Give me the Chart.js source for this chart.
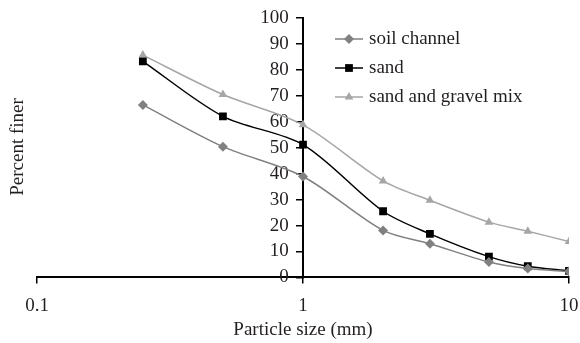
<!doctype html>
<html lang="en">
<head>
<meta charset="utf-8">
<title>Percent finer vs particle size</title>
<style>
  * { margin: 0; padding: 0; }
  body { background: #fff; }
  .chartBox { width: 580px; height: 343px; }
</style>
</head>
<body>
<div class="chartBox"><canvas id="myChart" width="580" height="343"></canvas></div>
<script src="https://cdn.jsdelivr.net/npm/chart.js/dist/chart.umd.min.js"></script>
<script>
// data
const sizes = [0.25, 0.5, 1, 2, 3, 5, 7, 10];
const soilChannel = [66.5, 50.4, 38.9, 18.1, 13.0, 5.9, 3.4, 2.3];
const sand = [83.3, 62.1, 51.2, 25.5, 16.8, 8.0, 4.3, 2.5];
const sandGravelMix = [85.7, 70.5, 58.8, 37.2, 29.7, 21.3, 17.8, 13.8];
const seriesNames = ['soil channel', 'sand', 'sand and gravel mix'];
const xTicks = [0.1, 1, 10];
const yTicks = [0, 10, 20, 30, 40, 50, 60, 70, 80, 90, 100];

const FONT = '"Liberation Serif", "Times New Roman", serif';
const TEXT = '#231f20';

function toPoints(values) {
  return sizes.map((x, i) => ({x: x, y: values[i]}));
}

const data = {
  datasets: [
    {
      label: seriesNames[0],
      data: toPoints(soilChannel),
      borderColor: '#808080',
      backgroundColor: '#808080',
      pointStyle: 'rectRot',
      pointRadius: 5,
    },
    {
      label: seriesNames[1],
      data: toPoints(sand),
      borderColor: '#000000',
      backgroundColor: '#000000',
      pointStyle: 'rect',
      pointRadius: 5.5,
    },
    {
      label: seriesNames[2],
      data: toPoints(sandGravelMix),
      borderColor: '#a6a6a6',
      backgroundColor: '#a6a6a6',
      pointStyle: 'triangle',
      pointRadius: 5,
    },
  ]
};

// legend + y title drawn by hand, the built-in legend can't sit inside the plot
const extras = {
  id: 'extras',
  afterDraw(chart) {
    const ctx = chart.ctx;
    ctx.save();
    ctx.font = '19px ' + FONT;
    ctx.fillStyle = TEXT;
    ctx.textBaseline = 'middle';
    chart.data.datasets.forEach((ds, i) => {
      const y = 39 + i * 29;
      ctx.strokeStyle = ds.borderColor;
      ctx.lineWidth = 1.5;
      ctx.beginPath();
      ctx.moveTo(335, y);
      ctx.lineTo(363, y);
      ctx.stroke();
      ctx.fillStyle = ds.backgroundColor;
      Chart.helpers.drawPoint(ctx, {pointStyle: ds.pointStyle, radius: ds.pointRadius, rotation: 0, borderWidth: 0}, 349, y);
      ctx.fillStyle = TEXT;
      ctx.fillText(ds.label, 369, y);
    });
    // y axis title
    ctx.translate(18, 147);
    ctx.rotate(-Math.PI / 2);
    ctx.textAlign = 'center';
    ctx.fillText('Percent finer', 0, 0);
    ctx.restore();
  }
};

const config = {
  type: 'line',
  data,
  options: {
    responsive: false,
    animation: false,
    devicePixelRatio: 1,
    layout: {
      padding: {left: 37, right: 11, top: 18, bottom: 2}
    },
    elements: {
      line: {borderWidth: 1.5, tension: 0.3, fill: false},
      point: {borderWidth: 0, hoverRadius: 5}
    },
    plugins: {
      legend: {display: false},
      tooltip: {enabled: false}
    },
    scales: {
      x: {
        type: 'logarithmic',
        position: 'bottom',
        min: 0.1,
        max: 10,
        afterBuildTicks: (scale) => {
          scale.ticks = xTicks.map(v => ({value: v}));
        },
        // tick padding gets added to the side room too, drop it so the plot reaches x=569
        afterFit: (scale) => {
          scale.paddingRight = 0;
          scale.paddingLeft = 0;
        },
        ticks: {
          color: TEXT,
          font: {family: FONT, size: 19},
          padding: 11,
          maxRotation: 0,
          autoSkip: false,
          callback: (v) => String(v)
        },
        grid: {
          drawOnChartArea: false,
          color: '#000',
          tickLength: 6,
          lineWidth: 1.5
        },
        border: {display: true, color: '#000', width: 2},
        title: {
          display: true,
          text: 'Particle size (mm)',
          color: TEXT,
          font: {family: FONT, size: 19},
          padding: {top: -10, bottom: 0}
        }
      },
      y: {
        // axis crosses x at 1 mm
        position: {x: 1},
        min: 0,
        max: 100,
        afterBuildTicks: (scale) => {
          scale.ticks = yTicks.map(v => ({value: v}));
        },
        afterFit: (scale) => {
          scale.width = 0;
        },
        ticks: {
          color: TEXT,
          font: {family: FONT, size: 19},
          autoSkip: false,
          // padding is ignored for a crossing axis, trailing spaces push the label off the line
          callback: (v) => v + '   '
        },
        grid: {
          drawOnChartArea: false,
          color: '#000',
          tickLength: 6,
          lineWidth: 1.5
        },
        border: {display: true, color: '#000', width: 2}
      }
    }
  },
  plugins: [extras]
};

const myChart = new Chart(document.getElementById('myChart'), config);
</script>
</body>
</html>
